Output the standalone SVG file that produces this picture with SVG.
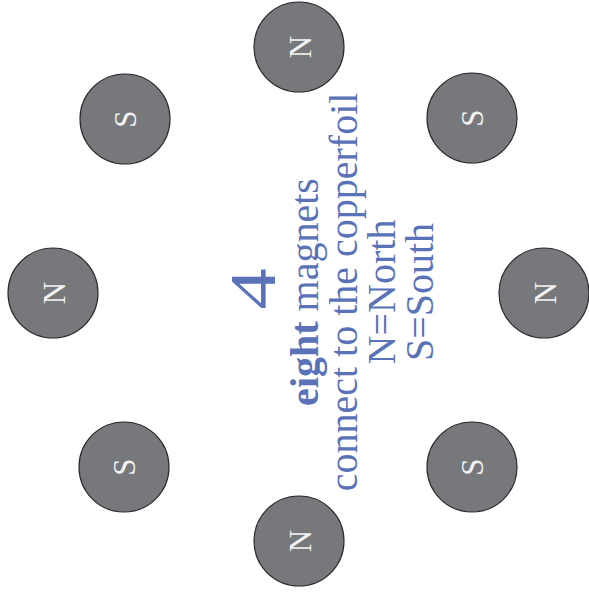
<svg xmlns="http://www.w3.org/2000/svg" width="589" height="592" viewBox="0 0 589 592">
<style>
.mag circle{fill:#77787c;stroke:#2b2b2b;stroke-width:1.2}
.mag text{fill:#f2f2f2;font-family:"Liberation Serif",serif;font-size:31px;text-anchor:middle}
.lbl{fill:#5a72b8;font-family:"Liberation Serif",serif;text-anchor:middle}
</style>
<rect width="589" height="592" fill="#ffffff"/>
<g id="magnet-n-top" class="mag"><circle cx="299" cy="47" r="45"/><text transform="translate(310.5,47) rotate(-90)">N</text></g>
<g id="magnet-s-topright" class="mag"><circle cx="472" cy="118" r="45"/><text transform="translate(483,118) rotate(-90)">S</text></g>
<g id="magnet-n-right" class="mag"><circle cx="544" cy="293" r="45"/><text transform="translate(555.5,293) rotate(-90)">N</text></g>
<g id="magnet-s-bottomright" class="mag"><circle cx="472" cy="467" r="45"/><text transform="translate(483,467) rotate(-90)">S</text></g>
<g id="magnet-n-bottom" class="mag"><circle cx="299" cy="541" r="45"/><text transform="translate(310.5,541) rotate(-90)">N</text></g>
<g id="magnet-s-bottomleft" class="mag"><circle cx="124" cy="467" r="45"/><text transform="translate(135,467) rotate(-90)">S</text></g>
<g id="magnet-n-left" class="mag"><circle cx="53" cy="293" r="45"/><text transform="translate(64.5,293) rotate(-90)">N</text></g>
<g id="magnet-s-topleft" class="mag"><circle cx="125" cy="119" r="45"/><text transform="translate(136,119) rotate(-90)">S</text></g>
<g id="connectors"></g>
<g id="caption" transform="translate(0,292) rotate(-90)">
<text class="lbl" transform="scale(1.25,1)" x="2.4" y="275" font-size="66">4</text>
<text class="lbl" x="0" y="318" font-size="40"><tspan font-weight="bold">eight</tspan> magnets</text>
<text class="lbl" x="0" y="357" font-size="40">connect to the copperfoil</text>
<text class="lbl" x="0" y="395" font-size="40">N=North</text>
<text class="lbl" x="0" y="433" font-size="40">S=South</text>
</g>
</svg>
